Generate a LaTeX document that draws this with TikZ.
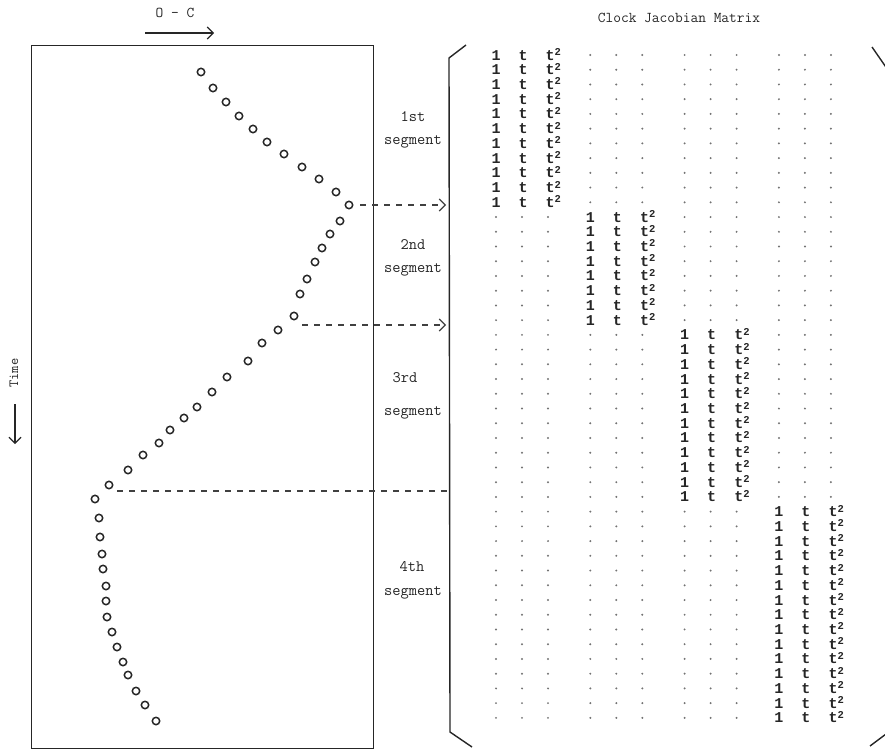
\documentclass[tikz,border=0pt]{standalone}
\usepackage{fontspec}
\newfontfamily\entfont{Liberation Mono}
\usetikzlibrary{arrows.meta}
\newcommand\sqsup{\raisebox{4.5pt}{\fontsize{10.5}{10.5}\selectfont 2}}
\begin{document}
\begin{tikzpicture}[x=1pt,y=-1pt,
  obs/.style={circle, draw=black!85, line width=1.5pt, minimum size=7.4pt, inner sep=0pt},
  lbl/.style={font=\fontsize{16}{18}\selectfont\ttfamily, text=black!85, inner sep=0pt},
  ttl/.style={font=\fontsize{15}{17}\selectfont\ttfamily\addfontfeature{LetterSpace=20}, text=black!85, inner sep=0pt},
  ent/.style={font=\fontsize{15}{15}\selectfont\entfont\bfseries, text=black!85, inner sep=0pt, anchor=base},
  entw/.style={font=\fontsize{15}{15}\selectfont\entfont\bfseries, text=black!85, inner sep=0pt, anchor=base west},
  mdot/.style={circle, fill=black!55, minimum size=2.2pt, inner sep=0pt},
  frame/.style={draw=black!85, line width=1.1pt},
  brk/.style={draw=black!85, line width=1.4pt},
  dashline/.style={draw=black!75, line width=1.1pt, dash pattern=on 6pt off 6pt},
  tip/.style={-{Straight Barb[length=6pt,width=12pt,line width=1.1pt]}}
]
\useasboundingbox (0,0) rectangle (885,750);

% plot frame
\node[frame, minimum width=342pt, minimum height=703pt, anchor=north west, inner sep=0pt] (plot) at (31,45) {};

% header O - C
\node[ttl] (oc) at (175,13) {O - C};
\coordinate (ocs) at (145,33);
\coordinate (oce) at (214,33);
\draw[draw=black!85, line width=1.1pt, tip] (ocs) -- (oce);

% Time
\node[lbl, font=\fontsize{14}{16}\selectfont\ttfamily, rotate=90] (time) at (14,373) {Time};
\coordinate (ts) at (15,404);
\coordinate (te) at (15,444);
\draw[draw=black!85, line width=1.1pt, tip] (ts) -- (te);

% observations
\foreach \x/\y [count=\i] in {
 201/72,213/88,226/102,239/116,253/129,267/142,284/154,302/167,319/179,336/192,349/205,
 340/221,330/234,322/248,315/262,307/279,300/294,294/316,
 278/330,262/343,248/361,227/377,212/392,197/407,184/418,170/430,159/443,143/455,128/470,109/485,
 95/499,99/518,100/537,102/554,103/569,106/586,106/601,107/617,112/632,117/647,123/662,128/675,136/691,145/705,156/721}
  \node[obs] (c\i) at (\x,\y) {};

% segment labels
\node[lbl] (s1a) at (413,117) {1st};
\node[lbl] (s1b) at (413,142) {segment};
\node[lbl] (s2a) at (413,245) {2nd};
\node[lbl] (s2b) at (413,270) {segment};
\node[lbl] (s3a) at (405,378) {3rd};
\node[lbl] (s3b) at (413,413) {segment};
\node[lbl] (s4a) at (412,567) {4th};
\node[lbl] (s4b) at (413,593) {segment};

% segment arrows
\coordinate (a1s) at (360,205);
\coordinate (a1e) at (446,205);
\draw[dashline, tip] (a1s) -- (a1e);
\coordinate (a2s) at (302,325);
\coordinate (a2e) at (446,325);
\draw[dashline, tip] (a2s) -- (a2e);
\coordinate (a3s) at (117,491);
\coordinate (a3e) at (451,491);
\draw[dashline] (a3s) -- (a3e);

% title
\node[ttl] (title) at (679,18) {Clock Jacobian Matrix};

% brackets
\draw[brk] (466,45) -- (449,58) -- (450,732) -- (472,747);
\draw[brk] (872,47) -- (890,73);
\draw[brk] (870,746) -- (890,731);

% matrix
\foreach \r in {0,...,45}{
  \pgfmathtruncatemacro\blk{(\r>10)+(\r>18)+(\r>30)}
  \pgfmathsetmacro\yy{55+14.73*\r}
  \foreach \g in {0,...,3}{
    \pgfmathsetmacro\gx{496+94.3*\g}
    \ifnum\g=\blk
      \node[ent] (m\r a) at (\gx,\yy+5) {1};
      \node[ent] (m\r b) at (\gx+27,\yy+5) {t};
      \node[entw] (m\r c) at (\gx+49.5,\yy+5) {t\sqsup};
    \else
      \node[mdot] (d\r-\g-1) at (\gx,\yy) {};
      \node[mdot] (d\r-\g-2) at (\gx+26,\yy) {};
      \node[mdot] (d\r-\g-3) at (\gx+52,\yy) {};
    \fi
  }
}
\end{tikzpicture}
\end{document}
